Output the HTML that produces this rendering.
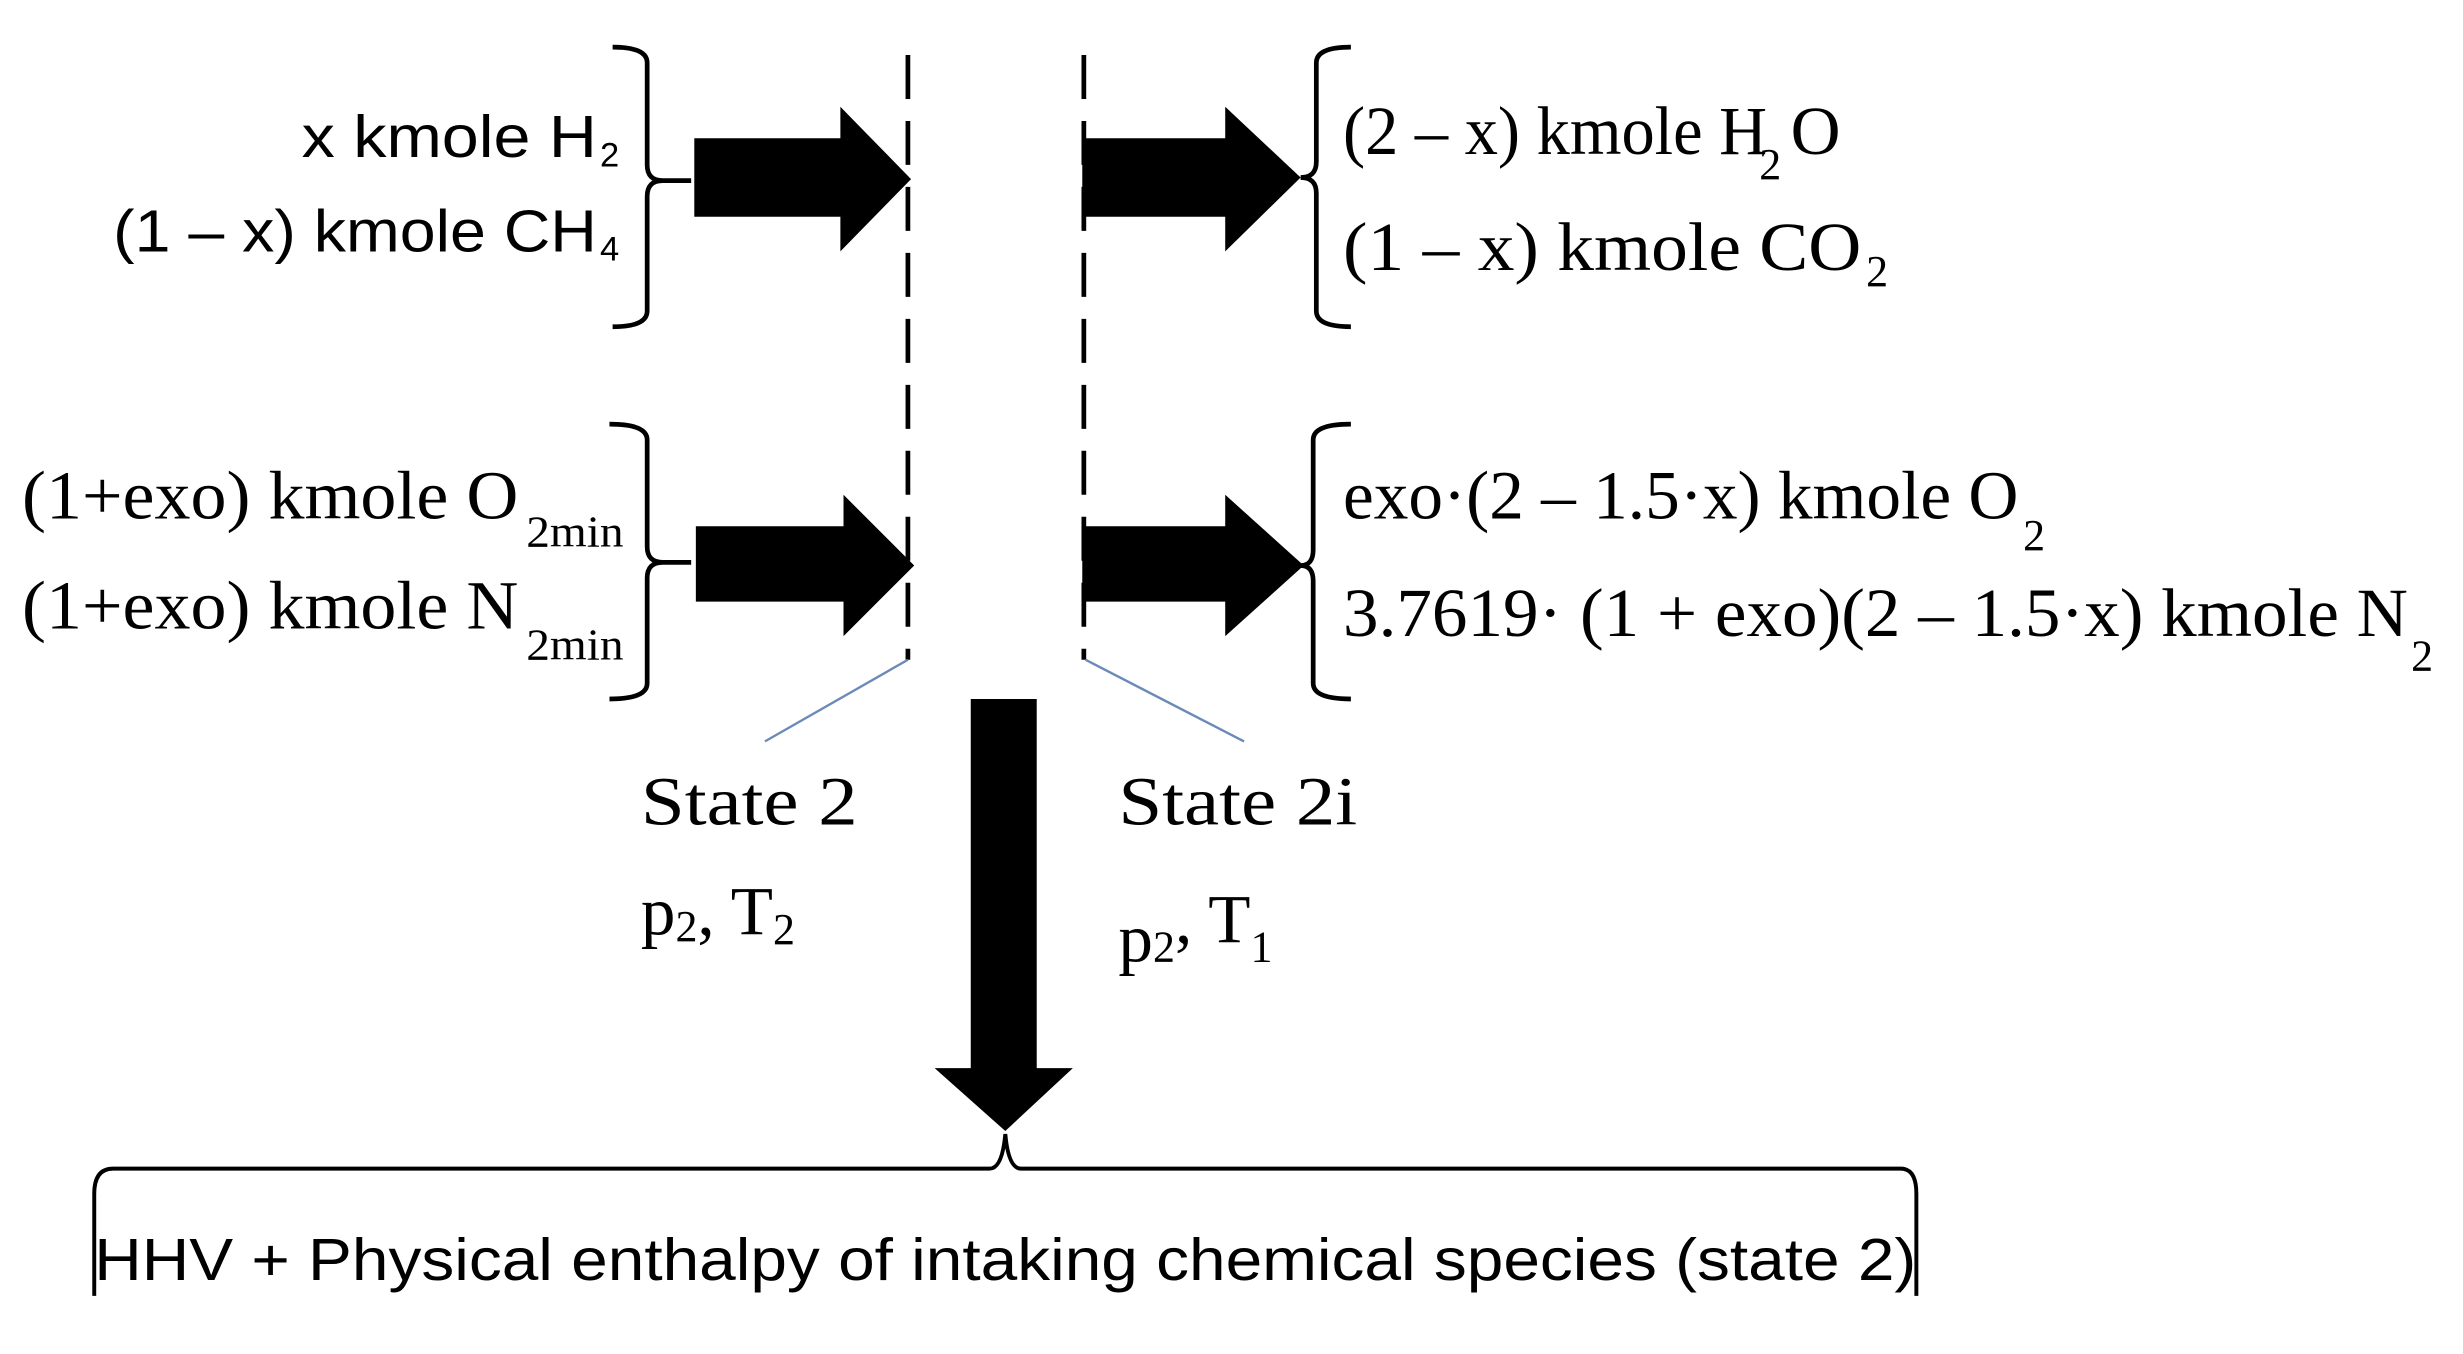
<!DOCTYPE html>
<html><head><meta charset="utf-8"><style>html,body{margin:0;padding:0;background:#fff}svg{display:block}</style></head>
<body>
<svg width="2463" height="1354" viewBox="0 0 1568 862" preserveAspectRatio="none" xmlns="http://www.w3.org/2000/svg">
<g fill="none" stroke="#000" stroke-width="3">
<path d="M390,30 Q412,30 412,40 L412,105 Q412,115 422,115 L440,115 M422,115 Q412,115 412,125 L412,198 Q412,208 390,208"/>
<path d="M388,270 Q412,270 412,280 L412,348 Q412,358 422,358 L440,358 M422,358 Q412,358 412,368 L412,435 Q412,445 388,445"/>
<path d="M860,30 Q838,30 838,40 L838,103 Q838,113 828,113 M828,113 Q838,113 838,123 L838,198 Q838,208 860,208"/>
<path d="M860,270 Q836,270 836,280 L836,350 Q836,360 828,360 M828,360 Q836,360 836,370 L836,435 Q836,445 860,445"/>
<path d="M578,35 L578,420 M690,35 L690,420" stroke-dasharray="28,14"/>
<path d="M60,825 L60,760 Q60,744 72,744 L630,744 Q638,744 640,722 Q642,744 650,744 L1210,744 Q1220,744 1220,760 L1220,825" stroke-width="2.5"/>
</g>
<g stroke="#6a8ab8" stroke-width="1.5"><line x1="578" y1="420" x2="487" y2="472"/><line x1="691" y1="420" x2="792" y2="472"/></g>
<g fill="#000">
<polygon points="442,88 535,88 535,68 580,114 535,160 535,138 442,138"/>
<polygon points="689,88 780,88 780,68 828,113 780,160 780,138 689,138"/>
<polygon points="443,335 537,335 537,315 582,360 537,405 537,383 443,383"/>
<polygon points="689,335 780,335 780,315 830,360 780,405 780,383 689,383"/>
<polygon points="618,445 660,445 660,680 683,680 640,720 595,680 618,680"/>
</g>
<g font-family="Liberation Sans, sans-serif" font-size="38" fill="#000">
<text x="192" y="100" textLength="188" lengthAdjust="spacingAndGlyphs">x kmole H</text><text x="382" y="106" font-size="22">2</text>
<text x="72" y="160" textLength="308" lengthAdjust="spacingAndGlyphs">(1 – x) kmole CH</text><text x="382" y="166" font-size="22">4</text>
<text x="60" y="815" textLength="1160" lengthAdjust="spacingAndGlyphs">HHV + Physical enthalpy of intaking chemical species (state 2)</text>
</g>
<g font-family="Liberation Serif, serif" font-size="44" fill="#000">
<text x="855" y="98" textLength="270" lengthAdjust="spacingAndGlyphs">(2 – x) kmole H</text><text x="1120" y="114" font-size="28">2</text><text x="1140" y="98">O</text>
<text x="855" y="172" textLength="330" lengthAdjust="spacingAndGlyphs">(1 – x) kmole  CO</text><text x="1188" y="182" font-size="28">2</text>
<text x="14" y="330" textLength="316" lengthAdjust="spacingAndGlyphs">(1+exo) kmole O</text><text x="335" y="348" font-size="28" textLength="62" lengthAdjust="spacingAndGlyphs">2min</text>
<text x="14" y="400" textLength="316" lengthAdjust="spacingAndGlyphs">(1+exo) kmole N</text><text x="335" y="420" font-size="28" textLength="62" lengthAdjust="spacingAndGlyphs">2min</text>
<text x="855" y="330" textLength="430" lengthAdjust="spacingAndGlyphs">exo·(2 – 1.5·x) kmole O</text><text x="1288" y="350" font-size="28">2</text>
<text x="855" y="405" textLength="678" lengthAdjust="spacingAndGlyphs">3.7619· (1 + exo)(2 – 1.5·x) kmole N</text><text x="1535" y="427" font-size="28">2</text>
<text x="408" y="525" textLength="138" lengthAdjust="spacingAndGlyphs">State 2</text>
<text x="408" y="595">p<tspan font-size="28" dy="4">2</tspan><tspan dy="-4">, T</tspan><tspan font-size="28" dy="6">2</tspan></text>
<text x="712" y="525" textLength="152" lengthAdjust="spacingAndGlyphs">State 2i</text>
<text x="712" y="612">p<tspan font-size="28" dy="0">2</tspan><tspan dy="-12">, T</tspan><tspan font-size="28" dy="12">1</tspan></text>
</g>
</svg>
</body></html>
